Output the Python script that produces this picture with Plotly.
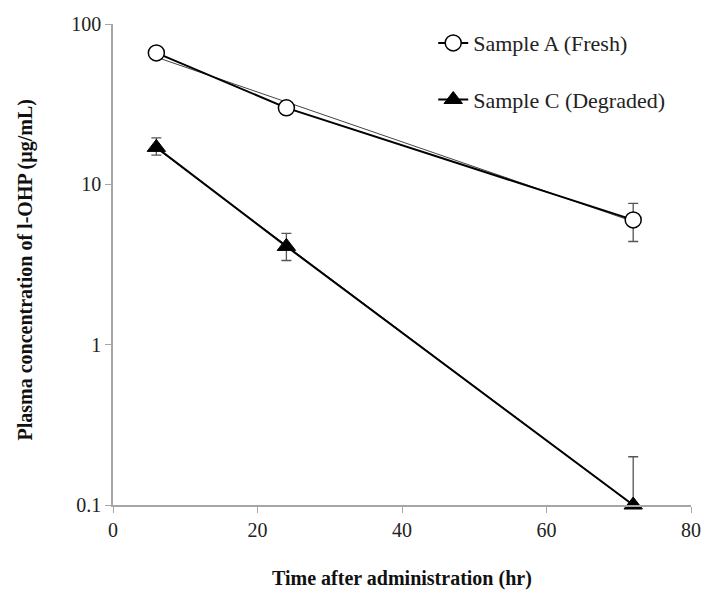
import numpy as np
import plotly.graph_objects as go

time_hr = [6, 24, 72]
sample_a = [66, 30, 6.0]
sample_a_sd = [3.0, 2.5, 1.6]
sample_c = [17.0, 4.1, 0.1]
sample_c_sd_plus = [2.5, 0.85, 0.1]
sample_c_sd_minus = [1.8, 0.75, 0.0]

x_ticks = [0, 20, 40, 60, 80]
y_ticks = [0.1, 1, 10, 100]
y_tick_text = ["0.1", "1", "10", "100"]

x_title = "Time after administration (hr)"
y_title = "Plasma concentration of l-OHP (µg/mL)"

serif = "'Times New Roman', Tinos, 'Liberation Serif', 'DejaVu Serif', serif"


def exp_fit(x, y):
    slope, intercept = np.polyfit(np.array(x, float), np.log10(np.array(y, float)), 1)
    xs = np.array([min(x), max(x)], float)
    return xs, 10 ** (intercept + slope * xs)


fig = go.Figure()

# trend lines (exponential fits)
for ys in (sample_a, sample_c):
    fx, fy = exp_fit(time_hr, ys)
    fig.add_trace(go.Scatter(x=fx, y=fy, mode="lines", showlegend=False,
                             line=dict(color="#444444", width=1), hoverinfo="skip"))

fig.add_trace(go.Scatter(
    x=time_hr, y=sample_a, mode="lines+markers", name="Sample A (Fresh)",
    legendgroup="a",
    line=dict(color="black", width=2),
    marker=dict(symbol="circle", size=16, color="white", line=dict(color="black", width=1.5)),
    error_y=dict(type="data", array=sample_a_sd, color="#555555", thickness=1.3, width=5),
    cliponaxis=False,
))
fig.add_trace(go.Scatter(
    x=time_hr, y=sample_c, mode="lines+markers", name="Sample C (Degraded)",
    legendgroup="c",
    line=dict(color="black", width=2),
    marker=dict(symbol="triangle-up", size=16, color="black", line=dict(color="black", width=1)),
    error_y=dict(type="data", symmetric=False, array=sample_c_sd_plus,
                 arrayminus=sample_c_sd_minus, color="#555555", thickness=1.3, width=5),
    cliponaxis=False,
))

fig.update_layout(
    width=705, height=595,
    margin=dict(l=113, r=14, t=24, b=90),
    plot_bgcolor="white", paper_bgcolor="white",
    font=dict(family=serif, size=20, color="#222222"),
    showlegend=True,
    legend=dict(x=0.554, y=1.004, xanchor="left", yanchor="top",
                font=dict(family=serif, size=22, color="#222222"),
                tracegroupgap=25, bgcolor="rgba(0,0,0,0)", itemwidth=30),
    xaxis=dict(range=[0, 80], tickvals=x_ticks, showgrid=False, zeroline=False,
               showline=True, linecolor="#a6a6a6", linewidth=1.5, automargin=False,
               ticks="outside", ticklen=6, tickcolor="#a6a6a6",
               tickfont=dict(family=serif, size=20, color="#222222")),
    yaxis=dict(type="log", range=[-1, 2], tickvals=y_ticks, ticktext=y_tick_text,
               showgrid=False, zeroline=False, automargin=False,
               showline=True, linecolor="#a6a6a6", linewidth=1.5,
               ticks="outside", ticklen=6, tickcolor="#a6a6a6",
               tickfont=dict(family=serif, size=20, color="#222222")),
    annotations=[
        dict(text="<b>" + x_title + "</b>", xref="paper", yref="paper",
             x=0.5, y=-0.152, xanchor="center", yanchor="middle", showarrow=False,
             font=dict(family=serif, size=20, color="#111111")),
        dict(text="<b>" + y_title + "</b>", xref="paper", yref="paper",
             x=-0.151, y=0.489, xanchor="center", yanchor="middle", showarrow=False,
             textangle=-90, font=dict(family=serif, size=20, color="#111111")),
    ],
)

fig.write_html("out.html")
